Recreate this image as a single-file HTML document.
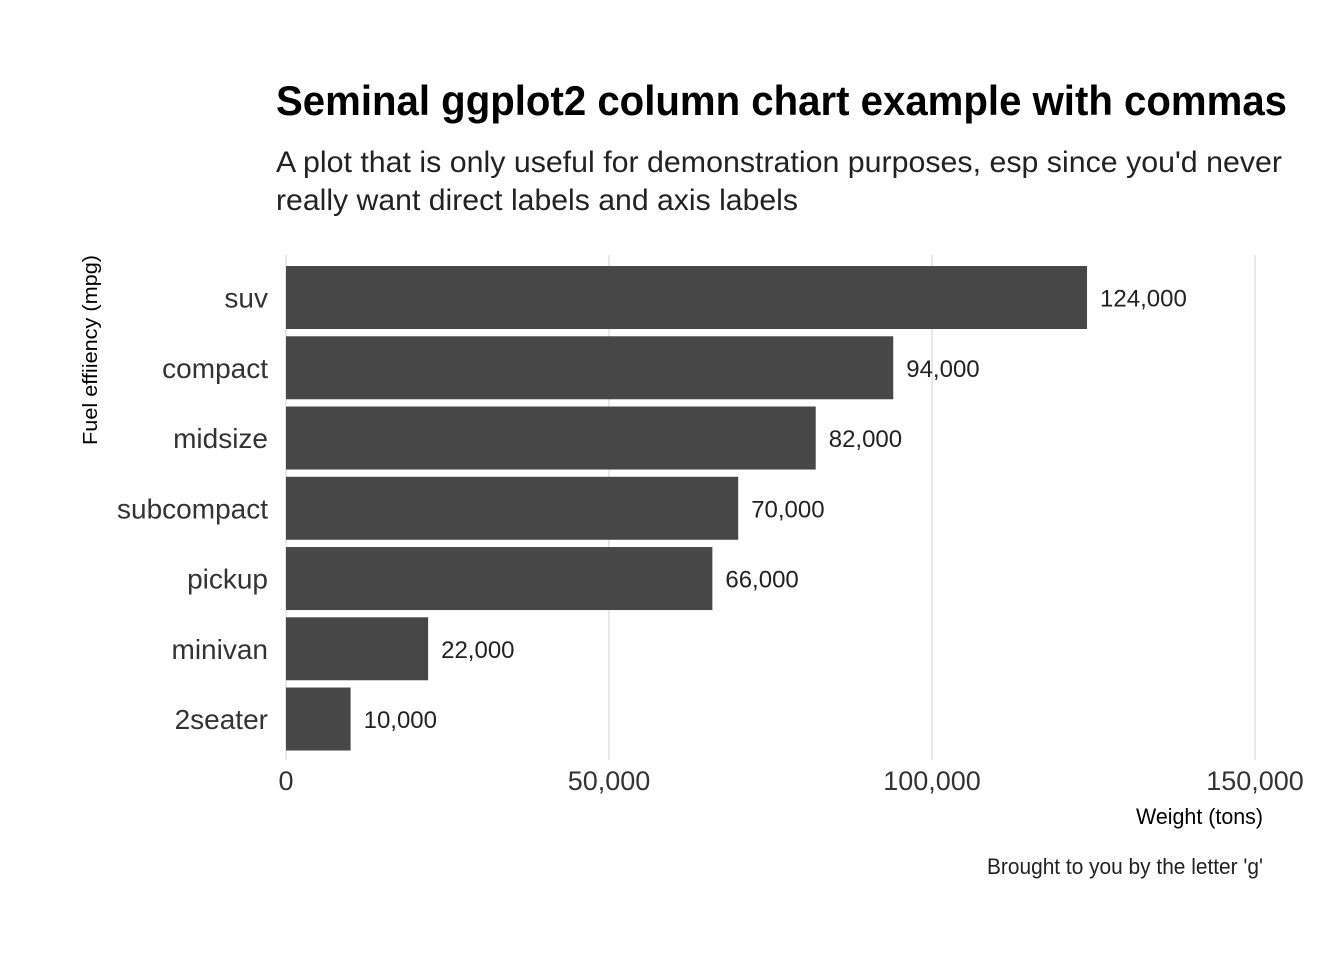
<!DOCTYPE html>
<html><head><meta charset="utf-8"><style>
html,body{margin:0;padding:0;background:#fff}
svg{display:block}
text{font-family:"Liberation Sans Narrow","Liberation Sans",sans-serif}
</style></head><body>
<svg id="chart" width="1344" height="960" xmlns="http://www.w3.org/2000/svg">
<rect width="1344" height="960" fill="#fff"/>
<text x="276" y="115" font-size="42" font-weight="bold" fill="#000" textLength="1011" lengthAdjust="spacingAndGlyphs">Seminal ggplot2 column chart example with commas</text>
<text x="276" y="172" font-size="30" fill="#222" textLength="1006" lengthAdjust="spacingAndGlyphs">A plot that is only useful for demonstration purposes, esp since you'd never</text>
<text x="276" y="210" font-size="30" fill="#222" textLength="522" lengthAdjust="spacingAndGlyphs">really want direct labels and axis labels</text>
<g id="grid"></g>
<g id="bars"></g>
<g id="labels"></g>
<text x="0" y="0" font-size="20" fill="#000" transform="translate(97,255) rotate(-90)" text-anchor="end" textLength="190" lengthAdjust="spacingAndGlyphs">Fuel effiiency (mpg)</text>
<text x="1263" y="824" font-size="22" fill="#000" text-anchor="end" textLength="127" lengthAdjust="spacingAndGlyphs">Weight (tons)</text>
<text x="1263" y="874" font-size="22" fill="#222" text-anchor="end" textLength="276" lengthAdjust="spacingAndGlyphs">Brought to you by the letter 'g'</text>
</svg>
<script>
const categories = ["suv","compact","midsize","subcompact","pickup","minivan","2seater"];
const values = [124000,94000,82000,70000,66000,22000,10000];
const valueLabels = ["124,000","94,000","82,000","70,000","66,000","22,000","10,000"];
const ticks = [0,50000,100000,150000];
const tickLabels = ["0","50,000","100,000","150,000"];
const NS="http://www.w3.org/2000/svg";
const x0=286, pxPer=323/50000;
const xs=v=>x0+v*pxPer;
const yTop=262.4, step=70.25, bh=63;
const yc=i=>yTop+step*i+step/2;
function mk(tag,attrs,parent,txt){const e=document.createElementNS(NS,tag);for(const k in attrs)e.setAttribute(k,attrs[k]);if(txt!==undefined)e.textContent=txt;document.getElementById(parent).appendChild(e);return e;}
ticks.forEach((t,i)=>{
  const l=mk('line',{x1:xs(t),x2:xs(t),y1:255,y2:760,stroke:'#d0d0d0','stroke-width':1},'grid');
  
  
  const anchor=i===0?'middle':'middle';
  const tx=mk('text',{x:xs(t),y:790,'font-size':27,fill:'#333','text-anchor':anchor},'labels',tickLabels[i]);
  
  
});
categories.forEach((c,i)=>{
  const r=mk('rect',{x:x0,y:yc(i)-bh/2,width:xs(values[i])-x0,height:bh,fill:'#474747'},'bars');
  
  
  const v=mk('text',{x:xs(values[i])+13,y:yc(i)+9,'font-size':24,fill:'#222'},'labels',valueLabels[i]);
  
  
  const cl=mk('text',{x:268,y:yc(i)+10,'font-size':28,fill:'#333','text-anchor':'end'},'labels',c);
  
  
});
</script>
</body></html>
